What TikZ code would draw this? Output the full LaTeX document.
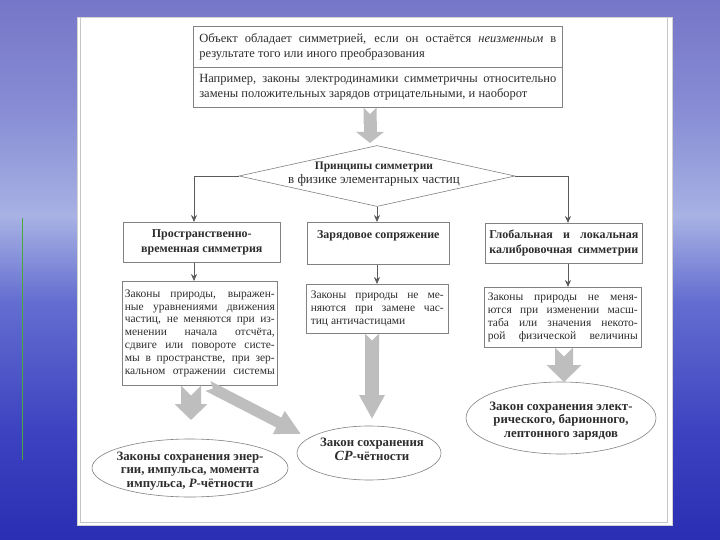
\documentclass[tikz,border=0pt]{standalone}
\usepackage{fontspec}
\setmainfont{Liberation Serif}
\usetikzlibrary{arrows.meta,shapes.geometric,calc}
\definecolor{boxline}{RGB}{130,130,130}
\definecolor{txt}{RGB}{45,45,45}
\definecolor{arrowfill}{RGB}{190,190,190}
\definecolor{bgA}{RGB}{118,118,200}
\definecolor{bgB}{RGB}{135,140,212}
\definecolor{bgC}{RGB}{168,178,228}
\definecolor{bgD}{RGB}{100,110,208}
\definecolor{bgE}{RGB}{60,66,192}
\definecolor{bgF}{RGB}{42,46,178}
\definecolor{greenline}{RGB}{80,165,60}
\newcommand{\jline}[2]{\makebox[#1][s]{#2}}
\newcommand{\myTop}{\fontsize{12.5}{15}\selectfont}
\newcommand{\myHd}{\fontsize{12}{15}\selectfont\bfseries}
\newcommand{\myBody}{\fontsize{11.5}{12.9}\selectfont}
\newcommand{\myEl}{\fontsize{12.8}{13.8}\selectfont\bfseries}
\newcommand{\myDia}{\fontsize{13}{14}\selectfont}
\begin{document}
\begin{tikzpicture}[x=1pt,y=-1pt,
  box/.style={draw=boxline, line width=0.6pt, fill=white, inner sep=0pt, text=txt, anchor=north west},
  oval/.style={ellipse, draw=boxline, line width=0.6pt, fill=white, inner sep=0pt},
  ovaltext/.style={text=txt, align=center, font=\myEl, inner sep=0pt},
  conn/.style={draw=boxline!70!black, line width=0.6pt, -{Stealth[length=7pt,width=6pt]}},
  bigarrow/.style n args={3}{draw=arrowfill, line width=#1, {Triangle Cap[reversed]}-{Triangle[width=#2,length=#3]}}
]
\useasboundingbox (0,0) rectangle (720,540);
% background
\shade[top color=bgA, bottom color=bgB] (0,0) rectangle (720,109);
\shade[top color=bgB, bottom color=bgC] (0,108) rectangle (720,217);
\shade[top color=bgC, bottom color=bgD] (0,216) rectangle (720,301);
\shade[top color=bgD, bottom color=bgE] (0,300) rectangle (720,433);
\shade[top color=bgE, bottom color=bgF] (0,432) rectangle (720,540);
\draw[greenline, line width=0.8pt] (22,218) -- (22,460);
% page
\fill[white] (77,17) rectangle (672,525);
\draw[gray!35, line width=0.5pt] (77,17) rectangle (672,525);
\draw[gray!45, line width=0.5pt] (80,17) -- (80,522) -- (667,522) -- (667,17);

% top box
\node[box, minimum width=369pt, minimum height=41pt] (t1) at (193,26)
  {\parbox{357pt}{\myTop\jline{357pt}{Объект обладает симметрией, если он остаётся \textit{неизменным} в}\\результате того или иного преобразования}};
\node[box, minimum width=369pt, minimum height=40pt] (t2) at (193,67)
  {\parbox{357pt}{\myTop\jline{357pt}{Например, законы электродинамики симметричны относительно}\\замены положительных зарядов отрицательными, и наоборот}};

% diamond
\node[diamond, draw=boxline, line width=0.6pt, fill=white, minimum width=276pt, minimum height=61pt, inner sep=0pt] (dia) at (377,176) {};
\node[text=txt, align=center, font=\myDia, inner sep=0pt] (diat) at (374,174) {{\fontsize{11.5}{14}\selectfont\bfseries Принципы симметрии}\\в физике элементарных частиц};

% header boxes
\node[box, minimum width=157pt, minimum height=40pt] (s1) at (123,222)
  {\parbox{150pt}{\centering\myHd Пространственно-\\временная симметрия}};
\node[box, minimum width=142pt, minimum height=42pt] (s2) at (307,222)
  {\parbox[c][26pt][t]{140pt}{\centering\myHd Зарядовое сопряжение}};
\node[box, minimum width=157pt, minimum height=40pt] (s3) at (485,223)
  {\parbox{149pt}{\myHd\jline{149pt}{Глобальная и локальная}\\\jline{149pt}{калибровочная симметрии}}};

% law boxes
\node[box, minimum width=155pt, minimum height=104pt] (l1) at (122,281)
  {\parbox{150pt}{\myBody
   \jline{150pt}{Законы природы, выражен-}\\
   \jline{150pt}{ные уравнениями движения}\\
   \jline{150pt}{частиц, не меняются при из-}\\
   \jline{150pt}{менении начала отсчёта,}\\
   \jline{150pt}{сдвиге или повороте систе-}\\
   \jline{150pt}{мы в пространстве, при зер-}\\
   \jline{150pt}{кальном отражении системы}}};
\node[box, minimum width=142pt, minimum height=49pt] (l2) at (306,284)
  {\parbox{133pt}{\myBody
   \jline{133pt}{Законы природы не ме-}\\
   \jline{133pt}{няются при замене час-}\\
   тиц античастицами}};
\node[box, minimum width=157pt, minimum height=60pt] (l3) at (484,287)
  {\parbox{150pt}{\myBody
   \jline{150pt}{Законы природы не меня-}\\
   \jline{150pt}{ются при изменении масш-}\\
   \jline{150pt}{таба или значения некото-}\\
   \jline{150pt}{рой физической величины}}};

% ellipses
\node[oval, minimum width=196pt, minimum height=58pt] (e1) at (190,468) {};
\node[ovaltext] (e1t) at (190,471) {Законы сохранения энер-\\гии, импульса, момента\\импульса, \textit{P}-чётности};
\node[oval, minimum width=144pt, minimum height=54pt] (e2) at (369,453) {};
\node[ovaltext] (e2t) at (372,449) {Закон сохранения\\{\fontsize{14}{14}\selectfont\textit{CP}}-чётности};
\node[oval, minimum width=190pt, minimum height=72pt] (e3) at (561,418) {};
\node[ovaltext] (e3t) at (561,421) {Закон сохранения элект-\\рического, барионного,\\лептонного зарядов};

% thin connectors
\coordinate (lx) at (194,222);
\coordinate (rx) at (568,223);
\draw[conn] (dia.west) -| (lx);
\draw[conn] (dia.east) -| (rx);
\draw[conn] (dia.south) -- (dia.south |- s2.north);
\draw[conn] (s1.south -| lx) -- (l1.north -| lx);
\draw[conn] (s2.south -| dia.south) -- (l2.north -| dia.south);
\draw[conn] (s3.south -| rx) -- (l3.north -| rx);

% thick arrows
\coordinate (a0) at (370,143);
\coordinate (a1) at (191,420);
\coordinate (a2s) at (208,386);
\coordinate (a2) at (301,434);
\coordinate (a3) at (372,419);
\coordinate (a4) at (564,382);
\draw[bigarrow={13pt}{27pt}{11pt}] (t2.south -| a0) -- (a0);
\draw[bigarrow={20pt}{32pt}{16pt}] (l1.south -| a1) -- (a1);
\draw[bigarrow={11pt}{24pt}{25pt}] (a2s) -- (a2);
\draw[bigarrow={14pt}{24pt}{24pt}] (l2.south -| a3) -- (a3);
\draw[bigarrow={18pt}{34pt}{17pt}] (l3.south -| a4) -- (a4);
\end{tikzpicture}
\end{document}
